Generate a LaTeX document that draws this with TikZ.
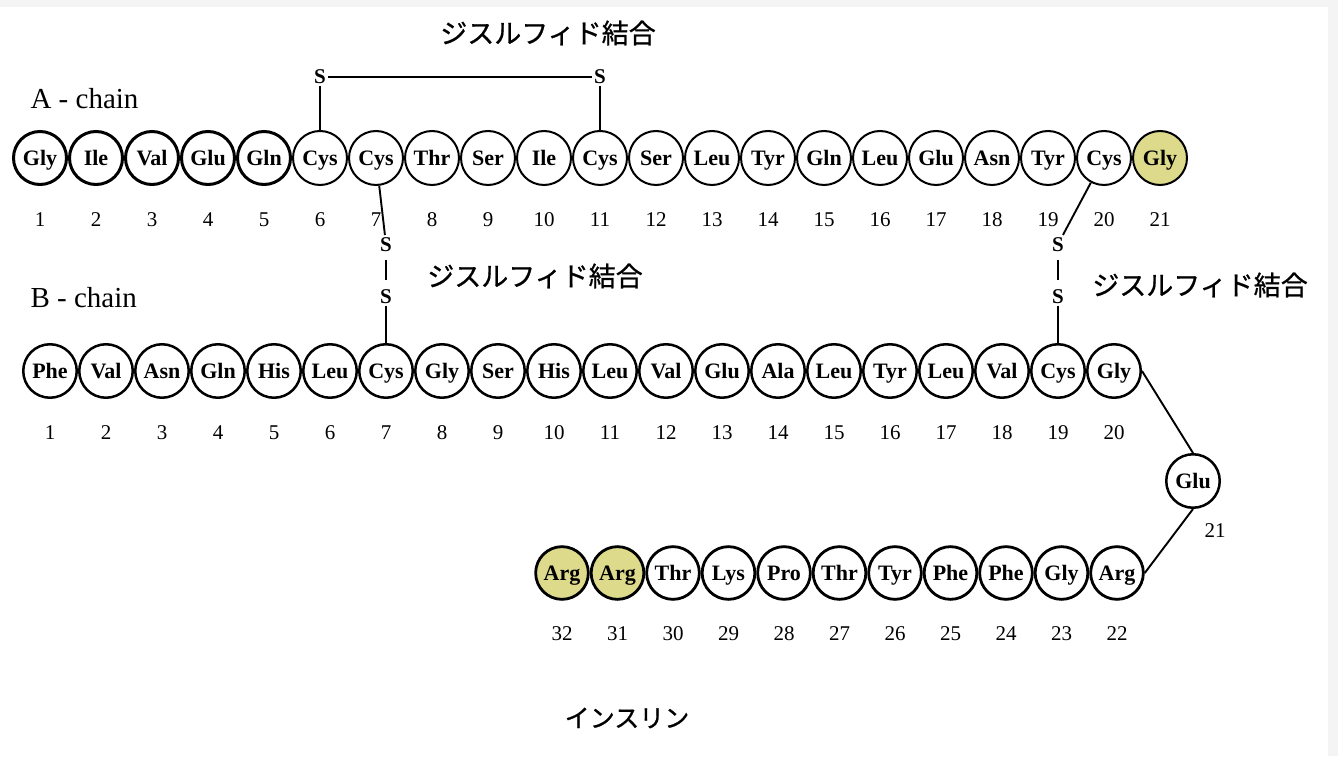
\documentclass[tikz,border=0pt]{standalone}
\usepackage{fontspec}
\setmainfont{Liberation Serif}
\newfontfamily\jpfont[FakeBold=0.8]{Noto Sans CJK JP}
\usetikzlibrary{positioning}
\definecolor{endfill}{RGB}{221,219,139}
\definecolor{edgegray}{RGB}{244,244,244}

\begin{document}
\begin{tikzpicture}[x=1pt,y=1pt,node distance=0pt,label distance=22.6pt,
  res/.style={circle,draw,line width=2pt,minimum size=54pt,inner sep=0pt,text height=15pt,text depth=0pt,font=\fontsize{22}{22}\selectfont\bfseries},
  resthick/.style={res,line width=3pt,minimum size=53pt},
  resb/.style={res,line width=2.5pt,minimum size=53.5pt},
  resc/.style={res,line width=2.8pt,minimum size=52.7pt},
  num/.style={font=\fontsize{21}{21}\selectfont,text height=14pt,text depth=0pt},
  sulf/.style={font=\fontsize{21}{21}\selectfont\bfseries,inner sep=2pt},
  jp/.style={font=\fontsize{27}{27}\selectfont\jpfont},
  chainname/.style={font=\fontsize{29}{29}\selectfont,anchor=west},
  bond/.style={line width=1.9pt}]
\useasboundingbox (0,0) rectangle (1338,756);
\fill[white] (0,0) rectangle (1338,756);
\fill[edgegray] (0,749) rectangle (1338,756);
\fill[edgegray] (1328,0) rectangle (1338,756);

% A chain
\node[resthick,label={[num]below:1}] (a1) at (40,598) {Gly};
\node[resthick,right=of a1,label={[num]below:2}] (a2) {Ile};
\node[resthick,right=of a2,label={[num]below:3}] (a3) {Val};
\node[resthick,right=of a3,label={[num]below:4}] (a4) {Glu};
\node[resthick,right=of a4,label={[num]below:5}] (a5) {Gln};
\node[res,right=of a5,label={[num]below:6}] (a6) {Cys};
\node[res,right=of a6,label={[num]below:7}] (a7) {Cys};
\node[res,right=of a7,label={[num]below:8}] (a8) {Thr};
\node[res,right=of a8,label={[num]below:9}] (a9) {Ser};
\node[res,right=of a9,label={[num]below:10}] (a10) {Ile};
\node[res,right=of a10,label={[num]below:11}] (a11) {Cys};
\node[res,right=of a11,label={[num]below:12}] (a12) {Ser};
\node[res,right=of a12,label={[num]below:13}] (a13) {Leu};
\node[res,right=of a13,label={[num]below:14}] (a14) {Tyr};
\node[res,right=of a14,label={[num]below:15}] (a15) {Gln};
\node[res,right=of a15,label={[num]below:16}] (a16) {Leu};
\node[res,right=of a16,label={[num]below:17}] (a17) {Glu};
\node[res,right=of a17,label={[num]below:18}] (a18) {Asn};
\node[res,right=of a18,label={[num]below:19}] (a19) {Tyr};
\node[res,right=of a19,label={[num]below:20}] (a20) {Cys};
\node[res,fill=endfill,right=of a20,label={[num]below:21}] (a21) {Gly};

% B chain
\node[resb,label={[num]below:1}] (b1) at (50,385) {Phe};
\node[resb,right=of b1,label={[num]below:2}] (b2) {Val};
\node[resb,right=of b2,label={[num]below:3}] (b3) {Asn};
\node[resb,right=of b3,label={[num]below:4}] (b4) {Gln};
\node[resb,right=of b4,label={[num]below:5}] (b5) {His};
\node[resb,right=of b5,label={[num]below:6}] (b6) {Leu};
\node[resb,right=of b6,label={[num]below:7}] (b7) {Cys};
\node[resb,right=of b7,label={[num]below:8}] (b8) {Gly};
\node[resb,right=of b8,label={[num]below:9}] (b9) {Ser};
\node[resb,right=of b9,label={[num]below:10}] (b10) {His};
\node[resb,right=of b10,label={[num]below:11}] (b11) {Leu};
\node[resb,right=of b11,label={[num]below:12}] (b12) {Val};
\node[resb,right=of b12,label={[num]below:13}] (b13) {Glu};
\node[resb,right=of b13,label={[num]below:14}] (b14) {Ala};
\node[resb,right=of b14,label={[num]below:15}] (b15) {Leu};
\node[resb,right=of b15,label={[num]below:16}] (b16) {Tyr};
\node[resb,right=of b16,label={[num]below:17}] (b17) {Leu};
\node[resb,right=of b17,label={[num]below:18}] (b18) {Val};
\node[resb,right=of b18,label={[num]below:19}] (b19) {Cys};
\node[resb,right=of b19,label={[num]below:20}] (b20) {Gly};
\node[resb] (b21) at (1193,275) {Glu};
\node[num] (b21num) at (1215,226) {21};

% C peptide side
\node[resc,label={[num]below:22}] (c22) at (1117,183) {Arg};
\node[resc,left=of c22,label={[num]below:23}] (c23) {Gly};
\node[resc,left=of c23,label={[num]below:24}] (c24) {Phe};
\node[resc,left=of c24,label={[num]below:25}] (c25) {Phe};
\node[resc,left=of c25,label={[num]below:26}] (c26) {Tyr};
\node[resc,left=of c26,label={[num]below:27}] (c27) {Thr};
\node[resc,left=of c27,label={[num]below:28}] (c28) {Pro};
\node[resc,left=of c28,label={[num]below:29}] (c29) {Lys};
\node[resc,left=of c29,label={[num]below:30}] (c30) {Thr};
\node[resc,fill=endfill,left=of c30,label={[num]below:31}] (c31) {Arg};
\node[resc,fill=endfill,left=of c31,label={[num]below:32}] (c32) {Arg};

% disulfide S atoms
\node[sulf,above=44pt of a6] (s6) {S};
\node[sulf,above=44pt of a11] (s11) {S};
\node[sulf,above=37pt of b7] (s7b) {S};
\node[sulf,above=34pt of s7b] (s7a) {S};
\node[sulf,above=37pt of b19] (s19b) {S};
\node[sulf,above=34pt of s19b] (s19a) {S};

\draw[bond](s6) to (s11);
\draw[bond](s6) to (a6);
\draw[bond](s11) to (a11);
\draw[bond](a7) to (s7a);
\draw[bond,shorten <=7pt,shorten >=7pt](s7a) to (s7b);
\draw[bond](s7b) to (b7);
\draw[bond](a20) to (s19a);
\draw[bond,shorten <=7pt,shorten >=7pt](s19a) to (s19b);
\draw[bond](s19b) to (b19);
\draw[bond](b20.east) to (b21.north);
\draw[bond](b21.south) to (c22.east);

% labels
\node[chainname] (achain) at (27,657) {A - chain};
\node[chainname] (bchain) at (27,458) {B - chain};
\node[jp] (bondtop) at (548,723) {ジスルフィド結合};
\node[jp] (bondleft) at (535,480) {ジスルフィド結合};
\node[jp] (bondright) at (1200,471) {ジスルフィド結合};
\node[jp,font=\fontsize{25}{25}\selectfont\jpfont] (insulin) at (627,38) {インスリン};
\end{tikzpicture}
\end{document}
